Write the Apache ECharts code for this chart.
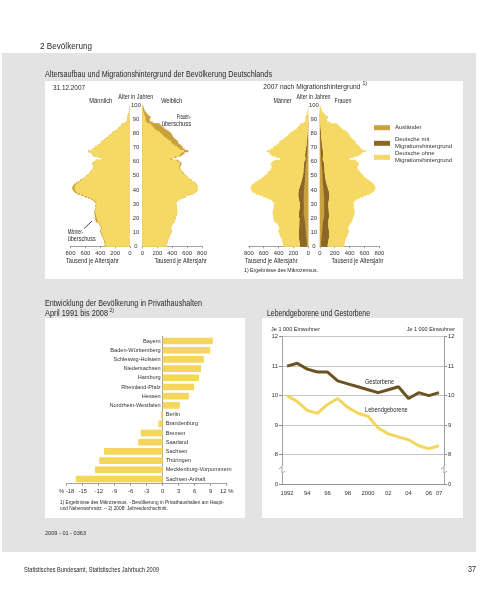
<!DOCTYPE html>
<html><head><meta charset="utf-8">
<script src="https://cdn.jsdelivr.net/npm/echarts@6/dist/echarts.min.js"></script>
<style>html,body{margin:0;padding:0;background:#fff}#c{width:500px;height:595px}</style>
</head><body><div id="c"></div>
<script>
// ---------- DATA ----------
// Altersaufbau 31.12.2007 (Tausend je Altersjahr), Alter 0..99
const ages = Array.from({length:100},(_, i)=>String(i));
const maleTotal = [340,338,342,350,352,358,365,380,384,390,
402,398,386,390,402,410,422,452,462,466,
472,470,474,480,478,472,466,458,466,462,
458,470,490,520,560,610,655,705,740,760,
772,775,768,752,728,700,672,640,612,592,
570,552,535,518,500,492,488,498,505,488,
460,380,365,430,490,510,525,560,512,478,
465,430,400,392,375,345,318,292,275,255,
235,205,175,155,138,122,106,62,42,40,
36,40,30,21,15,10,7,5,3,2];
const femaleTotal = [330,328,332,340,342,348,355,370,374,380,
392,388,376,380,392,400,412,428,436,442,
450,452,458,465,468,465,460,452,460,456,
448,455,472,500,538,585,628,675,710,730,
742,746,742,730,710,688,662,635,610,592,
575,560,542,525,510,505,500,515,525,508,
482,402,390,458,520,548,565,615,568,540,
538,515,485,482,470,448,428,410,402,388,
375,350,316,290,270,252,232,142,102,96,
96,110,86,66,50,35,25,18,12,8];
// 2007 nach Migrationshintergrund (Mikrozensus)
const menForeign = [18,18,19,20,22,24,26,28,30,32,
34,36,38,38,40,42,44,46,48,52,
56,60,62,62,62,62,60,60,60,60,
60,62,62,62,62,62,62,60,60,58,
58,56,54,52,50,48,46,45,44,44,
42,42,40,40,40,38,36,34,32,30,
28,22,20,22,22,20,18,18,15,13,
12,10,9,8,8,6,5,5,4,4,
3,3,3,2,2,2,2,1,1,1,
1,1,1,0,0,0,0,0,0,0];
const menGermanMig = [95,95,98,100,102,104,104,102,100,98,
96,92,88,85,82,80,78,76,72,68,
70,68,66,64,62,60,58,56,55,55,
55,58,62,66,70,72,74,74,72,70,
68,64,60,56,52,48,44,40,37,34,
28,28,26,26,26,26,26,28,28,26,
24,18,18,20,22,22,22,22,20,18,
17,15,14,13,12,11,10,9,8,7,
6,5,4,4,3,3,3,2,1,1,
1,1,1,0,0,0,0,0,0,0];
const menGermanNoMig = [227,225,225,230,228,230,235,250,254,260,
272,270,260,267,280,288,300,330,342,346,
346,342,346,354,354,350,348,342,351,347,
343,350,366,392,428,476,519,571,608,632,
646,655,654,644,626,604,582,555,531,514,
500,482,469,452,434,428,426,436,445,432,
408,340,327,388,446,468,485,520,477,447,
436,405,377,371,355,328,303,278,263,244,
226,197,168,149,133,117,101,59,40,38,
34,38,28,21,15,10,7,5,3,2];
const womenForeign = [17,17,18,19,21,23,25,27,29,31,
33,34,36,36,38,40,42,44,48,52,
56,58,60,60,60,60,60,58,58,58,
58,58,58,58,58,56,56,54,52,50,
48,46,44,42,42,40,40,38,38,36,
36,34,34,32,32,30,28,26,24,22,
20,16,15,16,16,15,14,13,12,11,
10,9,8,8,7,6,6,5,5,4,
4,3,3,3,2,2,2,1,1,1,
1,1,1,1,0,0,0,0,0,0];
const womenGermanMig = [90,90,93,95,97,99,99,97,95,93,
91,88,84,81,78,76,74,72,70,68,
68,66,64,62,62,60,60,58,58,58,
58,60,64,68,70,72,74,74,72,70,
66,62,58,54,50,46,42,40,38,36,
34,33,32,32,32,32,33,34,34,32,
30,24,24,26,28,28,28,30,28,26,
25,23,21,20,19,18,17,16,15,14,
13,12,10,9,8,7,6,4,3,3,
3,3,2,2,1,1,1,0,0,0];
const womenGermanNoMig = [223,221,221,226,224,226,231,246,250,256,
268,266,256,263,276,284,296,312,318,322,
326,328,334,343,346,345,340,336,344,340,
332,337,350,374,410,457,498,547,586,610,
628,638,640,634,618,602,580,557,534,520,
505,493,476,461,446,443,439,455,467,454,
432,362,351,416,476,505,523,572,528,503,
503,483,456,454,444,424,405,389,382,370,
358,335,303,278,260,243,224,137,98,92,
92,106,83,63,49,34,24,18,12,8];
// Entwicklung der Bevölkerung in Privathaushalten April 1991 bis 2008 (%)
const states = ['Bayern','Baden-Württemberg','Schleswig-Holstein','Niedersachsen','Hamburg','Rheinland-Pfalz','Hessen','Nordrhein-Westfalen','Berlin','Brandenburg','Bremen','Saarland','Sachsen','Thüringen','Mecklenburg-Vorpommern','Sachsen-Anhalt'];
const stateChange = [9.4,8.9,7.7,7.2,6.8,5.9,4.9,3.2,-0.3,-0.8,-4.1,-4.6,-11.0,-11.9,-12.7,-16.3];
// Lebendgeborene und Gestorbene je 1 000 Einwohner
const years = ['1992','1993','1994','1995','1996','1997','1998','1999','2000','2001','2002','2003','2004','2005','2006','2007'];
const births = [10.0,9.8,9.5,9.4,9.7,9.9,9.6,9.4,9.3,8.9,8.7,8.6,8.5,8.3,8.2,8.3];
const deaths = [11.0,11.1,10.9,10.8,10.8,10.5,10.4,10.3,10.2,10.1,10.2,10.3,9.9,10.1,10.0,10.1];

// ---------- STYLE ----------
const FF = "'Liberation Sans Narrow','Liberation Sans',sans-serif";
const LIGHT = '#f5d964', SURPLUS = '#c9a13b', FOREIGN = '#c9a23e', GERMIG = '#8b6826', LINEDARK = '#6e5322', LINELIGHT = '#f3d65e', BAR = '#f4d65a';
const AX = '#8a8a8a', TXT = '#2a2a2a';

// ---------- derived tables for the pyramid bars: [start, end, ageIndex] ----------
const commonLeft = maleTotal.map((m,i)=>Math.min(m,femaleTotal[i]));
const seg = (lo, hi) => hi.map((v,i)=>[lo?lo[i]:0, (lo?lo[i]:0)+v, i]);
const sum2 = (a,b) => a.map((v,i)=>v+b[i]);

const mctx = document.createElement('canvas').getContext('2d');
// text element; optional target width (from the reference) sets a horizontal condensing factor
function T(x,y,text,size,align,w,extra){
  mctx.font = size+'px '+FF;
  const nat = mctx.measureText(text).width;
  const sx = w ? w/nat : 0.85;
  const st = Object.assign({text, font: size+'px '+FF, fill: TXT, textAlign: align||'left', textVerticalAlign:'middle'}, extra||{});
  return {type:'text', x, y, scaleX: sx, silent:true, z:10, style: st};
}
function R(x,y,w,h,fill,z){ return {type:'rect', shape:{x,y,width:w,height:h}, style:{fill}, silent:true, z: (z===undefined?-100:z)}; }

const lbl = {fontSize:5.9, color:'#333', fontFamily:FF};
function pyrX(g, inv){ return {gridIndex:g, type:'value', min:0, max:800, interval:200, inverse:inv,
  axisLine:{show:true, lineStyle:{color:AX, width:0.8}}, axisTick:{show:true, length:2, lineStyle:{color:AX, width:0.8}},
  splitLine:{show:false}, axisLabel:Object.assign({margin:4}, lbl)}; }
function pyrY(g){ return {gridIndex:g, type:'category', data:ages, show:false, boundaryGap:true}; }
function ageY(g){ return {gridIndex:g, type:'value', min:0, max:100, interval:10, axisLine:{show:false}, axisTick:{show:false}, splitLine:{show:false},
  axisLabel:Object.assign({align:'center', margin:0}, lbl)}; }
function hideX(g){ return {gridIndex:g, type:'value', show:false}; }
// one age bar per item; drawn 0.5 px taller on each side so that neighbouring 1.4 px bars leave no seams
function pbar(name, xi, data, color){
  return {type:'custom', name, xAxisIndex:xi, yAxisIndex:xi, data, silent:true, itemStyle:{color},
    encode:{x:[0,1], y:2},
    renderItem:(params, api)=>{
      const a = api.coord([api.value(0), api.value(2)]);
      const b = api.coord([api.value(1), api.value(2)]);
      const h = api.size([0,1])[1];
      return {type:'rect', shape:{x:Math.min(a[0],b[0]), y:a[1]-h/2-0.5, width:Math.abs(b[0]-a[0]), height:h+1}, style:{fill:color}};
    }};
}

const PT = 105.3, PH = 141;
const legendBase = {left:374, orient:'vertical', icon:'rect', itemWidth:16, itemHeight:5, itemGap:0, padding:0, selectedMode:false,
  textStyle:{fontSize:5.9, lineHeight:7, color:'#333', fontFamily:FF}};
const option = {
  animation:false,
  textStyle:{fontFamily:FF},
  grid:[
    {left:70.5, top:PT, width:59.5, height:PH},
    {left:142.5, top:PT, width:59.5, height:PH},
    {left:136, top:PT, width:1, height:PH},
    {left:248.8, top:PT, width:59.5, height:PH},
    {left:319.8, top:PT, width:59.5, height:PH},
    {left:313.8, top:PT, width:1, height:PH},
    {left:66.7, top:336.4, width:160, height:147.2},
    {left:282, top:336.7, width:162, height:147.3}
  ],
  xAxis:[
    pyrX(0,true), pyrX(1,false), hideX(2), pyrX(3,true), pyrX(4,false), hideX(5),
    {gridIndex:6, type:'value', min:-18, max:12, interval:3,
      axisLine:{show:true, onZero:false, lineStyle:{color:AX, width:0.8}}, axisTick:{show:true, length:2, lineStyle:{color:AX}},
      splitLine:{show:false}, axisLabel:Object.assign({margin:5, formatter:v=> v===-18?'% -18':(v===12?'12 %':String(v))}, lbl)},
    {gridIndex:7, type:'category', data:years, boundaryGap:true,
      axisLine:{show:true, lineStyle:{color:AX, width:0.8}}, axisTick:{show:false},
      axisLabel:Object.assign({margin:6, interval:(i)=> i%2===0 || i===15, formatter:v=> (v==='1992'||v==='2000')? v : v.slice(2)}, lbl)}
  ],
  yAxis:[
    pyrY(0), pyrY(1), ageY(2), pyrY(3), pyrY(4), ageY(5),
    {gridIndex:6, type:'category', data:states, inverse:true,
      axisLine:{show:true, onZero:true, lineStyle:{color:AX, width:0.8}}, axisTick:{show:false}, axisLabel:{show:false}},
    {gridIndex:7, type:'value', min:7, max:12, interval:1, position:'left',
      axisLine:{show:true, lineStyle:{color:AX, width:0.8}}, axisTick:{show:true, length:3, lineStyle:{color:AX}},
      splitLine:{show:true, lineStyle:{color:'#b8b8b8', width:0.8}},
      axisLabel:Object.assign({margin:4, formatter:v=> v===7?'0':String(v)}, lbl)},
    {gridIndex:7, type:'value', min:7, max:12, interval:1, position:'right',
      axisLine:{show:true, lineStyle:{color:AX, width:0.8}}, axisTick:{show:true, length:3, lineStyle:{color:AX}},
      splitLine:{show:false},
      axisLabel:Object.assign({margin:4, formatter:v=> v===7?'0':String(v)}, lbl)}
  ],
  legend:[
    Object.assign({data:['Ausländer'], top:124.2}, legendBase),
    Object.assign({data:['Deutsche mit\nMigrationshintergrund'], top:136.3}, legendBase),
    Object.assign({data:['Deutsche ohne\nMigrationshintergrund'], top:150.3}, legendBase)
  ],
  series:[
    // left pyramid, male side: full male bar (surplus colour) under the part shared with females
    pbar('Männerüberschuss', 0, seg(null, maleTotal), SURPLUS),
    pbar('Männlich', 0, seg(null, commonLeft), LIGHT),
    // left pyramid, female side
    pbar('Frauenüberschuss', 1, seg(null, femaleTotal), SURPLUS),
    pbar('Weiblich', 1, seg(null, commonLeft), LIGHT),
    // right pyramid, men (stacked outwards: Ausländer, Deutsche mit MH, Deutsche ohne MH)
    pbar('Ausländer', 3, seg(null, menForeign), FOREIGN),
    pbar('Deutsche mit\nMigrationshintergrund', 3, seg(menForeign, menGermanMig), GERMIG),
    pbar('Deutsche ohne\nMigrationshintergrund', 3, seg(sum2(menForeign, menGermanMig), menGermanNoMig), LIGHT),
    // right pyramid, women
    pbar('Ausländer', 4, seg(null, womenForeign), FOREIGN),
    pbar('Deutsche mit\nMigrationshintergrund', 4, seg(womenForeign, womenGermanMig), GERMIG),
    pbar('Deutsche ohne\nMigrationshintergrund', 4, seg(sum2(womenForeign, womenGermanMig), womenGermanNoMig), LIGHT),
    // states
    {type:'bar', name:'Veränderung', xAxisIndex:6, yAxisIndex:6, barCategoryGap:'28%', itemStyle:{color:BAR}, silent:true,
      data: stateChange.map(v=>({value:v, label:{position: v>=0?'left':'right', distance: v>=0?2:3}})),
      label:{show:true, formatter:'{b}', fontSize:5.6, color:'#333', fontFamily:FF}},
    // births/deaths
    {type:'line', name:'Gestorbene', xAxisIndex:7, yAxisIndex:7, data:deaths, symbol:'none', lineStyle:{width:3, color:LINEDARK}, silent:true},
    {type:'line', name:'Lebendgeborene', xAxisIndex:7, yAxisIndex:7, data:births, symbol:'none', lineStyle:{width:3, color:LINELIGHT}, silent:true}
  ],
  graphic:{elements:[
    R(2,53,474,499,'#e3e3e3'),
    R(45,81,418,198,'#ffffff'),
    R(45,318,200,200,'#ffffff'),
    R(262,318,201,200,'#ffffff'),
    T(40,46.5,'2 Bevölkerung',9.5,'left',52),
    T(45,75,'Altersaufbau und Migrationshintergrund der Bevölkerung Deutschlands',9,'left',227),
    T(53,88,'31.12.2007',7.6,'left',32),
    T(100.8,101,'Männlich',6.3,'center',23),
    T(135.8,97,'Alter in Jahren',6.3,'center',35),
    T(171.7,101,'Weiblich',6.3,'center',21),
    T(191,117.3,'Frauen-',6.3,'right',14.3),
    T(191,124.3,'überschuss',6.3,'right',29.3),
    T(67.7,232.3,'Männer-',6.3,'left',15.7),
    T(67.7,239,'überschuss',6.3,'left',28),
    {type:'line', shape:{x1:84,y1:228.5,x2:92,y2:221}, style:{stroke:'#111', lineWidth:0.8}, silent:true, z:10},
    T(66,261.5,'Tausend je Altersjahr',6.3,'left',52.7),
    T(206.7,261.5,'Tausend je Altersjahr',6.3,'right',52.3),
    T(263.3,86.5,'2007 nach Migrationshintergrund',7.6,'left',97),
    T(362.5,84,'1)',4.6,'left',4.5),
    T(282.5,101,'Männer',6.3,'center'),
    T(313.5,97,'Alter in Jahren',6.3,'center',34),
    T(343,101,'Frauen',6.3,'center'),
    T(245,261.5,'Tausend je Altersjahr',6.3,'left',52.5),
    T(383.3,261.5,'Tausend je Altersjahr',6.3,'right',51.7),
    T(244,270.5,'1) Ergebnisse des Mikrozensus.',5.2,'left',74),
    T(45,304,'Entwicklung der Bevölkerung in Privathaushalten',9,'left',157),
    T(45,313.5,'April 1991 bis 2008',9,'left',63),
    T(109.5,311,'2)',4.6,'left',4.5),
    T(267,313.5,'Lebendgeborene und Gestorbene',9,'left',103),
    T(60,502.5,'1) Ergebnisse des Mikrozensus. - Bevölkerung in Privathaushalten am Haupt-',5.2,'left',164),
    T(60,509,'und Nebenwohnsitz. – 2) 2008: Jahresdurchschnitt.',5.2,'left',108),
    T(271,329.3,'Je 1 000 Einwohner',6.2,'left',49),
    T(455,329.3,'Je 1 000 Einwohner',6.2,'right',48.3),
    T(365,382.3,'Gestorbene',6.6,'left',29),
    T(365,410,'Lebendgeborene',6.6,'left',42.7),
    R(280.5,466,3,8,'#ffffff',5), R(442.5,466,3,8,'#ffffff',5),
    {type:'polyline', shape:{points:[[279,469],[282,466.5],[282,473.5],[285,471]]}, style:{stroke:AX, lineWidth:0.8, fill:null}, silent:true, z:10},
    {type:'polyline', shape:{points:[[441,469],[444,466.5],[444,473.5],[447,471]]}, style:{stroke:AX, lineWidth:0.8, fill:null}, silent:true, z:10},
    T(45,533,'2009 - 01 - 0363',5.5,'left',41),
    T(24,570,'Statistisches Bundesamt, Statistisches Jahrbuch 2009',6.5,'left',135),
    T(476,570,'37',9,'right',8)
  ]}
};
const chart = echarts.init(document.getElementById('c'), null, {renderer:'canvas'});
chart.setOption(option);
</script>
</body></html>
